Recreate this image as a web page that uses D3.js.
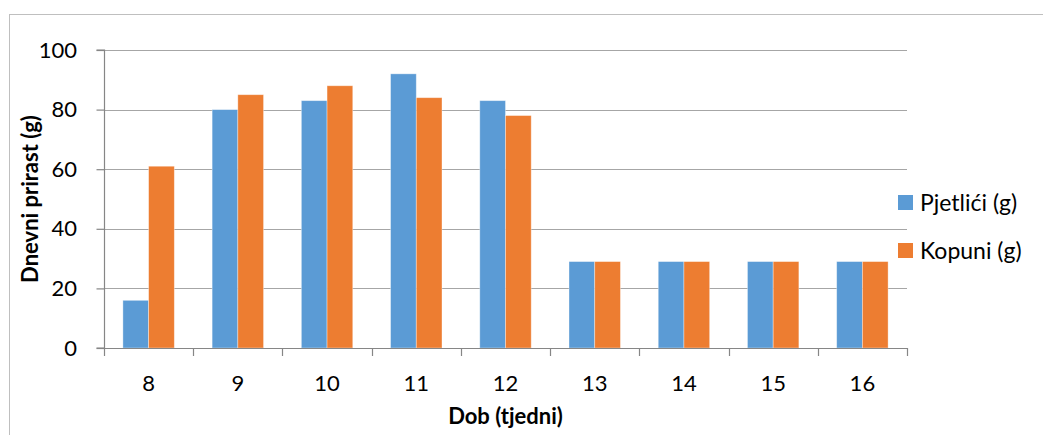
<!DOCTYPE html>
<html>
<head>
<meta charset="utf-8">
<script src="https://cdn.jsdelivr.net/npm/d3@7"></script>
<style>
  body { margin: 0; background: #fff; }
  text { font-family: Lato, "Open Sans", sans-serif; fill: #000; }
</style>
</head>
<body>
<div id="chart"></div>
<script>
// weeks on the x axis
const weeks = ["8", "9", "10", "11", "12", "13", "14", "15", "16"];
const seriesNames = ["Pjetlići (g)", "Kopuni (g)"];
const pjetlici = [16, 80, 83, 92, 83, 29, 29, 29, 29];
const kopuni = [61, 85, 88, 84, 78, 29, 29, 29, 29];
const yTicks = [0, 20, 40, 60, 80, 100];
const colors = ["#5B9BD5", "#ED7D31"];

const width = 1043, height = 435;
const plot = { left: 104, right: 907, top: 50, bottom: 348 };

const svg = d3.select("#chart").append("svg")
    .attr("width", width)
    .attr("height", height);

// chart area border
svg.append("rect")
    .attr("x", 9.5).attr("y", 14.5)
    .attr("width", 1100).attr("height", 500)
    .attr("fill", "none")
    .attr("stroke", "#BFBFBF");

const x0 = d3.scaleBand()
    .domain(weeks)
    .range([plot.left, plot.right]);
const x1 = d3.scaleBand()
    .domain(seriesNames)
    .range([0, x0.bandwidth()])
    .paddingOuter(0.735);
const y = d3.scaleLinear()
    .domain([0, 100])
    .range([plot.bottom, plot.top]);

// gridlines
svg.append("g")
    .selectAll("line")
    .data(yTicks.slice(1))
    .join("line")
    .attr("x1", plot.left).attr("x2", plot.right)
    .attr("y1", d => Math.round(y(d)) + 0.5)
    .attr("y2", d => Math.round(y(d)) + 0.5)
    .attr("stroke", "#A6A6A6")
    .attr("stroke-width", 1.2);

// bars
const rows = weeks.map((w, i) => ({ week: w, vals: [pjetlici[i], kopuni[i]] }));
const groups = svg.append("g")
    .selectAll("g")
    .data(rows)
    .join("g")
    .attr("transform", d => `translate(${x0(d.week)},0)`);
groups.selectAll("rect")
    .data(d => d.vals.map((v, j) => ({ name: seriesNames[j], v: v, j: j })))
    .join("rect")
    .attr("x", d => x1(d.name))
    .attr("y", d => y(d.v))
    .attr("width", x1.bandwidth())
    .attr("height", d => y(0) - y(d.v))
    .attr("fill", d => colors[d.j])
    .attr("stroke", "rgba(255,255,255,0.45)")
    .attr("stroke-width", 0.8);

// y axis
const yAxis = svg.append("g")
    .attr("transform", `translate(${plot.left + 0.5},0)`)
    .call(d3.axisLeft(y).tickValues(yTicks).tickSize(8).tickPadding(19.5));
yAxis.selectAll("line, path").attr("stroke", "#868686").attr("stroke-width", 1.2);
yAxis.selectAll("text").style("font-size", "22px").attr("fill", "#000");
yAxis.select(".domain").attr("d", `M-8,${plot.bottom}H0V${plot.top}H-8`);

// x axis
const xAxis = svg.append("g")
    .attr("transform", `translate(0,${plot.bottom + 0.5})`)
    .call(d3.axisBottom(x0).tickSize(0).tickPadding(27));
xAxis.select(".domain").attr("d", `M${plot.left},0H${plot.right}`)
    .attr("stroke", "#868686").attr("stroke-width", 1.2);
xAxis.selectAll("text").style("font-size", "22px").attr("fill", "#000");
// category separator ticks
svg.append("g")
    .selectAll("line")
    .data(weeks.concat(["end"]))
    .join("line")
    .attr("x1", (d, i) => Math.round(plot.left + i * x0.step()) + 0.5)
    .attr("x2", (d, i) => Math.round(plot.left + i * x0.step()) + 0.5)
    .attr("y1", plot.bottom)
    .attr("y2", plot.bottom + 8)
    .attr("stroke", "#868686")
    .attr("stroke-width", 1.2);

// axis titles
svg.append("text")
    .attr("x", (plot.left + plot.right) / 2)
    .attr("y", 424)
    .attr("text-anchor", "middle")
    .style("font-size", "22px")
    .style("font-weight", "bold")
    .text("Dob (tjedni)");
svg.append("text")
    .attr("transform", `translate(38,${(plot.top + plot.bottom) / 2}) rotate(-90)`)
    .attr("text-anchor", "middle")
    .style("font-size", "22px")
    .style("font-weight", "bold")
    .text("Dnevni prirast (g)");

// legend
const legend = svg.append("g")
    .selectAll("g")
    .data(seriesNames)
    .join("g")
    .attr("transform", (d, i) => `translate(898,${195 + i * 48})`);
legend.append("rect")
    .attr("width", 15).attr("height", 15)
    .attr("fill", (d, i) => colors[i]);
legend.append("text")
    .attr("x", 22).attr("y", 15.5)
    .style("font-size", "23px")
    .text(d => d);
</script>
</body>
</html>
